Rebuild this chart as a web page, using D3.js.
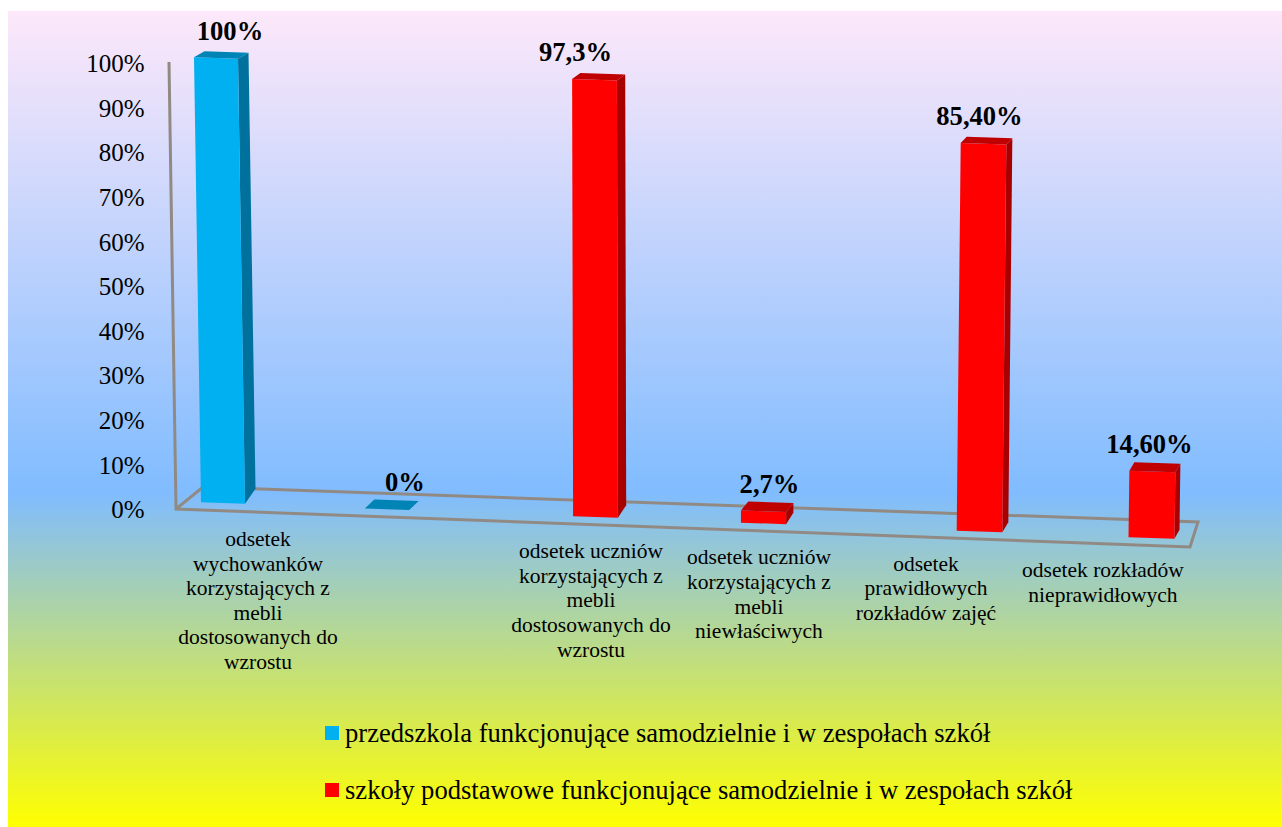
<!DOCTYPE html>
<html lang="pl">
<head>
<meta charset="utf-8">
<title>Odsetek wychowanków i uczniów</title>
<script src="https://cdn.jsdelivr.net/npm/d3@7/dist/d3.min.js"></script>
<style>
  html, body { margin: 0; padding: 0; background: #fff; }
  svg { display: block; }
  text { font-family: "Liberation Serif", "Times New Roman", serif; fill: #000; }
</style>
</head>
<body>
<svg id="chart" width="1282" height="827"></svg>
<script>
// Values and texts of the chart
const categoryLabels = [
  ["odsetek", "wychowanków", "korzystających z", "mebli", "dostosowanych do", "wzrostu"],
  [],
  ["odsetek uczniów", "korzystających z", "mebli", "dostosowanych do", "wzrostu"],
  ["odsetek uczniów", "korzystających z", "mebli", "niewłaściwych"],
  ["odsetek", "prawidłowych", "rozkładów zajęć"],
  ["odsetek rozkładów", "nieprawidłowych"]
];
const values = [100, 0, 97.3, 2.7, 85.4, 14.6];
const valueLabels = ["100%", "0%", "97,3%", "2,7%", "85,40%", "14,60%"];
const seriesOfBar = [0, 0, 1, 1, 1, 1];
const seriesNames = [
  "przedszkola funkcjonujące samodzielnie i w zespołach szkół",
  "szkoły podstawowe funkcjonujące samodzielnie i w zespołach szkół"
];
const yTicks = [0, 10, 20, 30, 40, 50, 60, 70, 80, 90, 100];

const seriesColors = [
  { front: "#00B0F0", side: "#00719C", top: "#0084B5" },
  { front: "#FF0000", side: "#A80000", top: "#C00000" }
];

const svg = d3.select("#chart");
const idx = values.map((_, i) => i);

// Page background
const grad = svg.append("defs").append("linearGradient")
  .attr("id", "bg").attr("x1", 0).attr("y1", 0).attr("x2", 0).attr("y2", 1);
[[0, "#FDE8FA"], [0.59, "#80BCFF"], [1, "#FFFF00"]].forEach(([o, c]) =>
  grad.append("stop").attr("offset", o).attr("stop-color", c));
svg.append("rect").attr("x", 8).attr("y", 11).attr("width", 1274).attr("height", 816)
  .attr("fill", "url(#bg)");

// Bars come in pairs: a pair centre plus an offset that widens with perspective
const pairCentre = d3.scaleLinear().domain([0, 1, 2]).range([305, 679.5, 1065.5]);
const pairHalfGap = d3.scaleLinear().domain([0, 2]).range([82, 86]);
const barCentre = i => {
  const pair = Math.floor(i / 2);
  return pairCentre(pair) + (i % 2 ? 1 : -1) * pairHalfGap(pair);
};

// Perspective of the tilted floor, all expressed against the horizontal position
const baseY = d3.scaleLinear().domain([223, 1151]).range([503, 538]);
const barWidth = d3.scaleLinear().domain([223, 1151]).range([44, 46]);
const skew = d3.scaleLinear().domain([223, 596, 980, 1151]).range([-0.07, -0.01, 0.047, 0.06]);
const unit = d3.scaleLinear().domain([223, 1151]).range([4.45, 4.56]);
const depthX = d3.scaleLinear().domain([223, 1151]).range([10.5, 5]);
const depthBaseY = d3.scaleLinear().domain([223, 1151]).range([-15, -9]);
const depthTopY = d3.scaleLinear().domain([0, 100]).range([-9, -6]);

// Floor outline and slanted value axis
const y = d3.scaleLinear().domain([0, 100]).range([509, 63]);
const floorCorners = [[169, y(100) - 1], [176, y(0)], [1190, 547], [1198, 522], [203, 487], [176, y(0)]];
svg.append("path")
  .attr("d", d3.line()(floorCorners))
  .attr("fill", "none").attr("stroke", "#918A84").attr("stroke-width", 3)
  .attr("stroke-linejoin", "miter");

// Value axis labels
const axis = d3.axisLeft(y).tickValues(yTicks).tickSize(0).tickPadding(0).tickFormat(d => d + "%");
const axisG = svg.append("g").attr("transform", "translate(144.5,0.6)").call(axis);
axisG.select(".domain").remove();
axisG.selectAll("text").style("font-size", "25px")
  .style("font-family", '"Liberation Serif", serif').attr("fill", "#000");

// Bars with front, side and top faces
const poly = pts => d3.line()(pts) + "Z";
const bars = svg.append("g").selectAll("g").data(idx).join("g");
bars.each(function (i) {
  const g = d3.select(this);
  const c = barCentre(i), w = barWidth(c), v = values[i];
  const colors = seriesColors[seriesOfBar[i]];
  const b = baseY(c), t = b - v * unit(c), xs = v * skew(c);
  const slope = 1.5 / w;
  const fl = [c - w / 2, b - slope * w / 2], fr = [c + w / 2, b + slope * w / 2];
  const tl = [c - w / 2 + xs, t - slope * w / 2], tr = [c + w / 2 + xs, t + slope * w / 2];
  const dx = depthX(c), dyT = depthTopY(v), dyB = depthBaseY(c);
  const brB = [fr[0] + dx, fr[1] + dyB];
  const tbl = [tl[0] + dx, tl[1] + dyT], tbr = [tr[0] + dx, tr[1] + dyT];
  if (v > 0) {
    g.append("path").attr("d", poly([tr, tbr, brB, fr])).attr("fill", colors.side);
    g.append("path").attr("d", poly([tl, tr, fr, fl])).attr("fill", colors.front);
  }
  g.append("path").attr("d", poly([tl, tbl, tbr, tr])).attr("fill", colors.top);
});

// Value labels above each bar
const labelShift = d3.scaleOrdinal().domain(idx).range([7, 18, -20, 6, 0, -2]);
svg.append("g").selectAll("text").data(idx).join("text")
  .attr("text-anchor", "middle")
  .attr("font-size", 26.6).attr("font-weight", "bold")
  .attr("x", i => barCentre(i) + labelShift(i))
  .attr("y", i => {
    const c = barCentre(i);
    return baseY(c) - values[i] * unit(c) - 18.5;
  })
  .text(i => valueLabels[i]);

// Category labels
const labelCentre = d3.scaleOrdinal().domain(idx).range([258, 0, 591, 759, 926, 1103]);
const labelTop = d3.scaleLinear().domain([258, 1103]).range([546, 577]);
const lineStep = 24.6;
svg.append("g").selectAll("text").data(idx.filter(i => categoryLabels[i].length)).join("text")
  .attr("font-size", 21.5).attr("text-anchor", "middle")
  .each(function (i) {
    const cx = labelCentre(i);
    d3.select(this).selectAll("tspan").data(categoryLabels[i]).join("tspan")
      .attr("x", cx)
      .attr("y", (_, k) => labelTop(cx) + k * lineStep)
      .text(d => d);
  });

// Legend
const legendY = d3.scalePoint().domain([0, 1]).range([742, 799]);
const legend = svg.append("g").selectAll("g").data([0, 1]).join("g");
legend.append("rect")
  .attr("x", 325).attr("width", 14).attr("height", 14)
  .attr("y", d => legendY(d) - 16)
  .attr("fill", d => seriesColors[d].front);
legend.append("text")
  .attr("x", 345).attr("y", d => legendY(d))
  .attr("font-size", 26.6)
  .text(d => seriesNames[d]);
</script>
</body>
</html>
